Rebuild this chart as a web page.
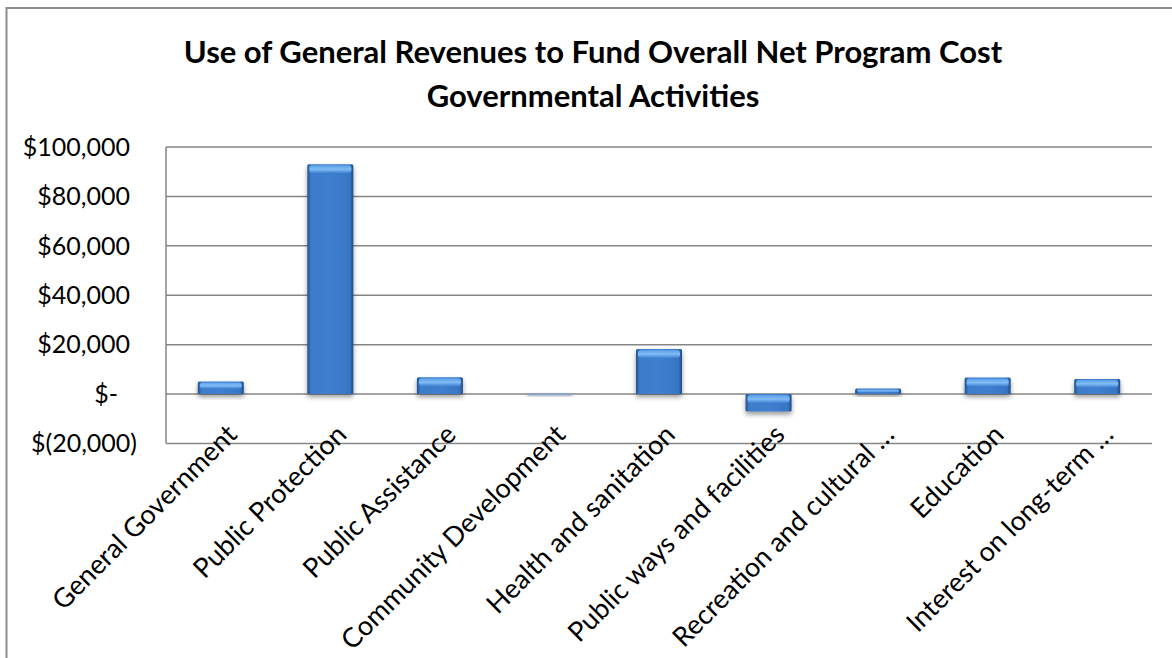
<!DOCTYPE html>
<html>
<head>
<meta charset="utf-8">
<script src="https://cdn.jsdelivr.net/npm/d3@7"></script>
<style>
  body { margin: 0; background: #fff; }
  text { font-family: Lato, "Open Sans", sans-serif; fill: #000; }
</style>
</head>
<body>
<div id="chart"></div>
<script>
// chart data
const titleLines = [
  "Use of General Revenues  to Fund Overall Net Program Cost",
  "Governmental Activities",
];
const categories = [
  "General Government",
  "Public Protection",
  "Public Assistance",
  "Community Development",
  "Health and sanitation",
  "Public ways and facilities",
  "Recreation and cultural \u2026",
  "Education",
  "Interest on long-term \u2026",
];
const values = [5100, 93000, 6800, 400, 18200, -7000, 2300, 6700, 6100];
const yTicks = [-20000, 0, 20000, 40000, 60000, 80000, 100000];

const width = 1172, height = 658;
const plot = { left: 166, right: 1152, top: 147, bottom: 443.5 };

const svg = d3
  .select("#chart")
  .append("svg")
  .attr("width", width)
  .attr("height", height);

const defs = svg.append("defs");

// side shading of the bevelled bars
const sideGrad = defs.append("linearGradient").attr("id", "side").attr("x1", 0).attr("x2", 1);
[
  [0, "#22508f"],
  [0.08, "#3d7cc9"],
  [0.5, "#3f7fd0"],
  [0.92, "#3876c4"],
  [1, "#1f4a86"],
].forEach(([o, c]) => sideGrad.append("stop").attr("offset", o).attr("stop-color", c));

// top bevel highlight
const topGrad = defs.append("linearGradient").attr("id", "bevel").attr("x1", 0).attr("x2", 0).attr("y1", 0).attr("y2", 1);
[
  [0, "#5b9de6"],
  [0.5, "#80bdf6"],
  [1, "#3f7fd0"],
].forEach(([o, c]) => topGrad.append("stop").attr("offset", o).attr("stop-color", c));

const shadow = defs.append("filter").attr("id", "shadow").attr("x", "-20%").attr("y", "-20%").attr("width", "140%").attr("height", "160%");
shadow.append("feDropShadow").attr("dx", 0).attr("dy", 3).attr("stdDeviation", 2.5).attr("flood-color", "#000").attr("flood-opacity", 0.4);

// outer chart border
svg
  .append("path")
  .attr("d", `M6.5,${height} V8 H${width}`)
  .attr("fill", "none")
  .attr("stroke", "#8c8c8c")
  .attr("stroke-width", 2);

// title
svg
  .append("g")
  .selectAll("text")
  .data(titleLines)
  .enter()
  .append("text")
  .attr("x", 593)
  .attr("y", (d, i) => 63 + i * 44)
  .attr("text-anchor", "middle")
  .attr("font-size", 31)
  .attr("font-weight", "bold")
  .text((d) => d);

const xScale = d3
  .scaleBand()
  .domain(categories)
  .range([plot.left, plot.right])
  .paddingInner(0.58)
  .paddingOuter(0.29);

const yScale = d3
  .scaleLinear()
  .domain([-20000, 100000])
  .range([plot.bottom, plot.top]);

// gridlines
svg
  .append("g")
  .selectAll("line")
  .data(yTicks)
  .enter()
  .append("line")
  .attr("x1", plot.left)
  .attr("x2", plot.right)
  .attr("y1", (d) => yScale(d))
  .attr("y2", (d) => yScale(d))
  .attr("stroke", "#868686")
  .attr("stroke-width", 1.5);

svg
  .append("line")
  .attr("x1", plot.left)
  .attr("x2", plot.left)
  .attr("y1", plot.top)
  .attr("y2", plot.bottom)
  .attr("stroke", "#868686")
  .attr("stroke-width", 1.5);

// accounting style tick labels
const fmt = d3.format(",");
svg
  .append("g")
  .selectAll("text")
  .data(yTicks)
  .enter()
  .append("text")
  .attr("x", (d) => (d < 0 ? 137 : d === 0 ? 118 : 130))
  .attr("y", (d) => yScale(d))
  .attr("dy", "0.35em")
  .attr("text-anchor", "end")
  .attr("font-size", 25)
  .text((d) => (d < 0 ? `$(${fmt(-d)})` : d === 0 ? "$-" : `$${fmt(d)}`));

// bars
const barData = categories.map((c, i) => ({ cat: c, value: values[i] }));
const bars = svg
  .append("g")
  .selectAll("g")
  .data(barData)
  .enter()
  .append("g")
  .attr("filter", "url(#shadow)");

bars
  .append("rect")
  .attr("x", (d) => xScale(d.cat))
  .attr("width", xScale.bandwidth())
  .attr("y", (d) => Math.min(yScale(d.value), yScale(0)))
  .attr("height", (d) => Math.max(2.5, Math.abs(yScale(d.value) - yScale(0))))
  .attr("fill", (d) => (Math.abs(d.value) < 1000 ? "#8fa3bf" : "url(#side)"))
  .attr("rx", 1.5);

bars
  .filter((d) => Math.abs(d.value) >= 1000)
  .append("rect")
  .attr("x", (d) => xScale(d.cat) + 2)
  .attr("width", xScale.bandwidth() - 4)
  .attr("y", (d) => Math.min(yScale(d.value), yScale(0)) + 1)
  .attr("height", (d) => Math.min(8, Math.abs(yScale(d.value) - yScale(0)) / 2))
  .attr("fill", "url(#bevel)")
  .attr("rx", 3);

// category labels, rotated
svg
  .append("g")
  .selectAll("text")
  .data(categories)
  .enter()
  .append("text")
  .attr(
    "transform",
    (d) => `translate(${xScale(d) + xScale.bandwidth() / 2 + 4},${plot.bottom - 21}) rotate(-45)`
  )
  .attr("dy", "0.72em")
  .attr("text-anchor", "end")
  .attr("font-size", 27)
  .text((d) => d);
</script>
</body>
</html>
